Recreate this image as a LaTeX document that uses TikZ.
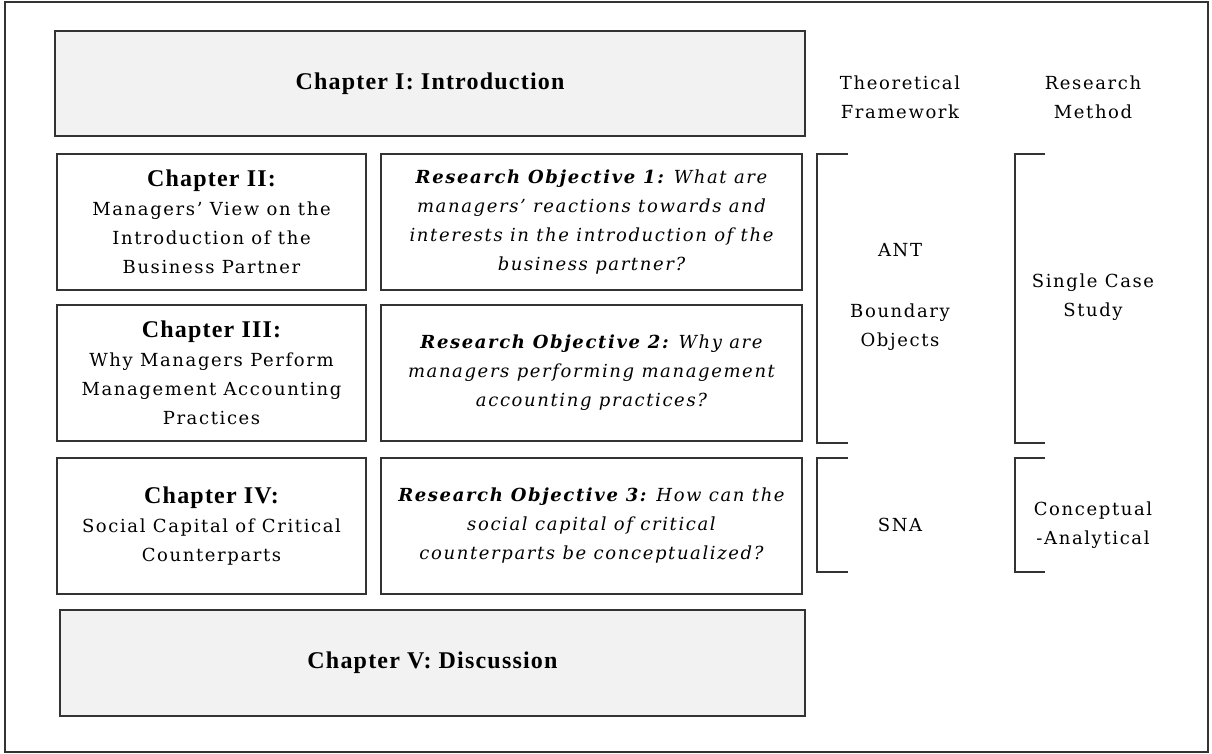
\documentclass[tikz,border=0pt]{standalone}
\usepackage{fontspec}
\setmainfont[LetterSpace=9]{DejaVu Serif}
\newfontfamily\chapfont[LetterSpace=5]{Liberation Serif}
\usetikzlibrary{positioning}
\newcommand{\chaptitle}[1]{{\chapfont\bfseries\fontsize{24}{29}\selectfont #1}}
\newcommand{\objtitle}[1]{\textbf{#1}}

\begin{document}
\begin{tikzpicture}
            [x=1pt, y=-1pt, semithick, font=\fontsize{18}{29}\selectfont,
             bigbox/.style={draw=black!80, line width=1.5pt, fill=black!5, minimum height=105pt},
             chapbox/.style={draw=black!80, line width=1.5pt, minimum width=309pt, minimum height=136pt, align=center},
             objbox/.style={draw=black!80, line width=1.5pt, minimum width=421pt, minimum height=136pt, align=center, font=\fontsize{18}{29}\selectfont\itshape},
             colhead/.style={align=center},
             bracket/.style={draw=black!80, line width=1.5pt}]
            \useasboundingbox (0, 0) rectangle (1212, 754);
            \draw[line width=1.5pt, black!80] (5, 2) rectangle (1208, 752);
            \node[bigbox, minimum width=750pt] (intro) at (430, 83.5) {\chaptitle{Chapter I: Introduction}};
            \node[chapbox] (ch2) at (211.5, 222) {\chaptitle{Chapter II:}\\ Managers' View on the\\ Introduction of the\\ Business Partner};
            \node[objbox] (ro1) at (591.5, 222) {\objtitle{Research Objective 1:} What are\\ managers' reactions towards and\\ interests in the introduction of the\\ business partner?};
            \node[chapbox] (ch3) at (211.5, 373) {\chaptitle{Chapter III:}\\ Why Managers Perform\\ Management Accounting\\ Practices};
            \node[objbox] (ro2) at (591.5, 373) {\objtitle{Research Objective 2:} Why are\\ managers performing management\\ accounting practices?};
            \node[chapbox] (ch4) at (211.5, 526) {\chaptitle{Chapter IV:}\\ Social Capital of Critical\\ Counterparts};
            \node[objbox] (ro3) at (591.5, 526) {\objtitle{Research Objective 3:} How can the\\ social capital of critical\\ counterparts be conceptualized?};
            \node[bigbox, minimum width=745pt, minimum height=106pt] (disc) at (432.5, 663) {\chaptitle{Chapter V: Discussion}};

            \node[colhead] (theory) at (900, 97) {Theoretical\\ Framework};
            \node[colhead] (method) at (1093, 97) {Research\\ Method};
            \node (ant) at (900, 250) {ANT};
            \node[colhead] (bo) at (900, 327) {Boundary\\ Objects};
            \node[colhead] (case) at (1093, 297) {Single Case\\ Study};
            \node (sna) at (900, 525) {SNA};
            \node[colhead] (concept) at (1093, 525) {Conceptual\\ -Analytical};

            \draw[bracket] (848, 154) -- (817, 154) -- (817, 443) -- (848, 443);
            \draw[bracket] (1045, 154) -- (1015, 154) -- (1015, 443) -- (1045, 443);
            \draw[bracket] (848, 458) -- (817, 458) -- (817, 572) -- (848, 572);
            \draw[bracket] (1045, 458) -- (1015, 458) -- (1015, 572) -- (1045, 572);
        \end{tikzpicture}
\end{document}
